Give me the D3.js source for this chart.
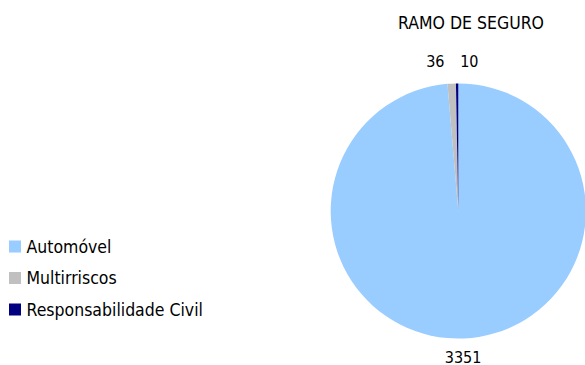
<!DOCTYPE html>
<html>
<head>
<meta charset="utf-8">
<script src="https://cdn.jsdelivr.net/npm/d3@7"></script>
<style>
  html, body { margin: 0; padding: 0; background: #fff; }
  svg text { font-family: Tahoma, "DejaVu Sans Condensed", "DejaVu Sans", sans-serif; fill: #000; }
</style>
</head>
<body>
<svg id="chart" width="585" height="365"></svg>
<script>
// Claims by insurance line
const title = "RAMO DE SEGURO";
const categories = ["Automóvel", "Multirriscos", "Responsabilidade Civil"];
const values = [3351, 36, 10];
const colors = ["#99CCFF", "#C0C0C0", "#000080"];

const svg = d3.select("#chart");
const cx = 458.3, cy = 211, radius = 127.6, labelRadius = 148;
const textSize = 17.5, numberSize = 16;

svg.append("text")
  .attr("x", 471).attr("y", 29.3)
  .attr("text-anchor", "middle")
  .style("font-size", textSize + "px")
  .text(title);

const pie = d3.pie().sort(null).value(d => d)(values);
const arc = d3.arc().innerRadius(0).outerRadius(radius);

const g = svg.append("g").attr("transform", `translate(${cx},${cy})`);
g.selectAll("path.slice")
  .data(pie)
  .join("path")
  .attr("class", "slice")
  .attr("d", arc)
  .attr("fill", (d, i) => colors[i]);

// outside-end value labels, pushed apart sideways when they collide
const labels = pie.map((d, i) => {
  const a = (d.startAngle + d.endAngle) / 2;
  return { text: String(values[i]), x: Math.sin(a) * labelRadius, y: -Math.cos(a) * labelRadius };
});
const minGap = 34;
for (let iter = 0; iter < 50; iter++) {
  for (let i = 0; i < labels.length; i++) {
    for (let j = i + 1; j < labels.length; j++) {
      const a = labels[i], b = labels[j];
      if (Math.abs(a.y - b.y) < numberSize && Math.abs(a.x - b.x) < minGap) {
        const mid = (a.x + b.x) / 2;
        const left = a.x <= b.x ? a : b, right = a.x <= b.x ? b : a;
        left.x = mid - minGap / 2;
        right.x = mid + minGap / 2;
      }
    }
  }
}
g.selectAll("text.lbl")
  .data(labels)
  .join("text")
  .attr("class", "lbl")
  .attr("x", d => d.x - 1.5)
  .attr("y", d => d.y)
  .attr("dy", 4)
  .attr("text-anchor", "middle")
  .style("font-size", numberSize + "px")
  .text(d => d.text);

// legend
const legend = svg.append("g").attr("transform", "translate(9,240.5)");
const rowH = 31.5;
const rows = legend.selectAll("g.row")
  .data(categories)
  .join("g")
  .attr("class", "row")
  .attr("transform", (d, i) => `translate(0,${i * rowH})`);
rows.append("rect")
  .attr("width", 12).attr("height", 12)
  .attr("fill", (d, i) => colors[i]);
rows.append("text")
  .attr("x", 17.5).attr("y", 12.3)
  .style("font-size", textSize + "px")
  .text(d => d);
</script>
</body>
</html>
